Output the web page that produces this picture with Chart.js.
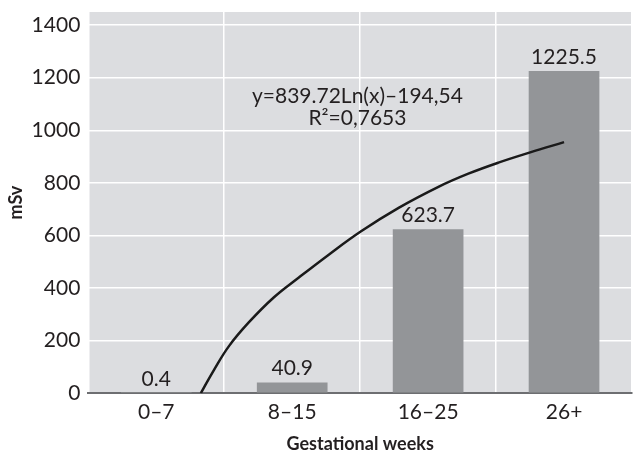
<!DOCTYPE html>
<html>
<head>
<meta charset="utf-8">
<script src="https://cdn.jsdelivr.net/npm/chart.js@4/dist/chart.umd.min.js"></script>
<style>
  html, body { margin: 0; padding: 0; background: #fff; }
  #wrap { width: 633px; height: 457px; }
</style>
</head>
<body>
<div id="wrap"><canvas id="doseChart"></canvas></div>
<script>
// Data
const weeks = ['0–7', '8–15', '16–25', '26+'];
const doseValues = [0.4, 40.9, 623.7, 1225.5];
const doseLabels = ['0.4', '40.9', '623.7', '1225.5'];
// logarithmic trend line (x = category position 1..4)
const trendX = [1.328, 1.426, 1.536, 1.682, 1.866, 2.049, 2.269, 2.504, 2.783, 3.076, 3.296, 3.517, 3.751, 4.0];
const trendY = [0, 90, 180, 270, 365, 440, 527, 615, 705, 785, 835, 877, 916, 955];
const yTicks = [0, 200, 400, 600, 800, 1000, 1200, 1400];
const equationText = ['y=839.72Ln(x)–194,54', 'R²=0,7653'];

const fontFamily = 'Lato, "DejaVu Sans", sans-serif';

// grey plot background
const plotBackground = {
    id: 'plotBackground',
    beforeDraw(chart) {
        const { ctx, chartArea: a } = chart;
        ctx.save();
        ctx.fillStyle = '#dcdde0';
        ctx.fillRect(a.left, a.top, a.right - a.left, a.bottom - a.top);
        ctx.restore();
    }
};

// value labels over bars + trend equation
const valueLabels = {
    id: 'valueLabels',
    afterDatasetsDraw(chart) {
        const { ctx } = chart;
        const meta = chart.getDatasetMeta(1);
        ctx.save();
        ctx.font = '21px ' + fontFamily;
        ctx.fillStyle = '#231f20';
        ctx.textAlign = 'center';
        ctx.textBaseline = 'alphabetic';
        meta.data.forEach((bar, i) => {
            ctx.fillText(doseLabels[i], bar.x, bar.y - 7);
        });
        const xs = chart.scales.xTrend;
        const ys = chart.scales.y;
        const cx = xs.getPixelForValue(2.48);
        ctx.textBaseline = 'middle';
        ctx.fillText(equationText[0], cx, ys.getPixelForValue(1129));
        ctx.fillText(equationText[1], cx, ys.getPixelForValue(1046));
        ctx.restore();
    }
};

new Chart(document.getElementById('doseChart').getContext('2d'), {
    data: {
        labels: weeks,
        datasets: [{
            type: 'line',
            label: 'Trend',
            data: trendX.map((x, i) => ({ x: x, y: trendY[i] })),
            xAxisID: 'xTrend',
            borderColor: '#1a1a1a',
            borderWidth: 2.5,
            pointRadius: 0,
            tension: 0.4,
            fill: false,
            order: 0
        }, {
            type: 'bar',
            label: 'mSv',
            data: doseValues,
            xAxisID: 'x',
            backgroundColor: '#939598',
            grouped: false,
            categoryPercentage: 1,
            barPercentage: 0.52,
            order: 1
        }]
    },
    options: {
        responsive: true,
        maintainAspectRatio: false,
        animation: false,
        layout: { padding: { top: 0, right: 1, left: 4, bottom: 2 } },
        plugins: {
            legend: { display: false },
            tooltip: { enabled: false }
        },
        scales: {
            x: {
                type: 'category',
                offset: true,
                grid: {
                    offset: true,
                    color: '#ffffff',
                    lineWidth: 1.5,
                    drawTicks: false
                },
                border: { display: true, color: '#6d6e71', width: 2 },
                ticks: {
                    color: '#231f20',
                    padding: 6,
                    font: { family: fontFamily, size: 21 }
                },
                title: {
                    display: true,
                    text: 'Gestational weeks',
                    color: '#231f20',
                    padding: { top: 3, bottom: 0 },
                    font: { family: fontFamily, size: 18, weight: 'bold' }
                }
            },
            xTrend: {
                type: 'linear',
                display: false,
                min: 0.5,
                max: 4.5
            },
            y: {
                min: 0,
                max: 1450,
                afterBuildTicks(axis) {
                    axis.ticks = yTicks.map(v => ({ value: v }));
                },
                afterFit(axis) {
                    axis.paddingTop = 12;
                },
                grid: {
                    color: '#ffffff',
                    lineWidth: 1.5,
                    drawTicks: false
                },
                border: { display: false },
                ticks: {
                    color: '#231f20',
                    padding: 8,
                    font: { family: fontFamily, size: 21 },
                    callback: v => String(v)
                },
                title: {
                    display: true,
                    text: 'mSv',
                    color: '#231f20',
                    padding: { top: 1, bottom: -3 },
                    font: { family: fontFamily, size: 18, weight: 'bold' }
                }
            }
        }
    },
    plugins: [plotBackground, valueLabels]
});
</script>
</body>
</html>
